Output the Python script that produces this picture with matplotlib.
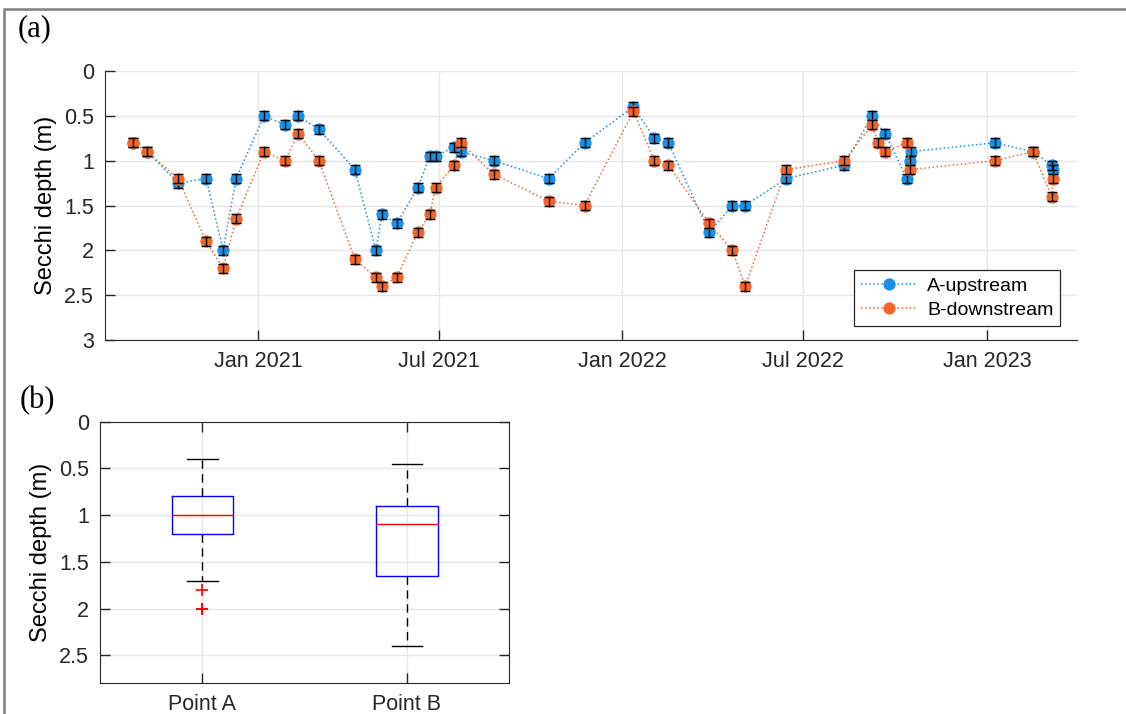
import numpy as np
import pandas as pd
import matplotlib
matplotlib.use("Agg")
import matplotlib.pyplot as plt
import matplotlib.dates as mdates
from matplotlib.patches import Rectangle
from matplotlib.ticker import FormatStrFormatter

plt.rcParams['font.family'] = ['Liberation Sans', 'DejaVu Sans']

# --- data ---
dates_a = ["2020-08-29", "2020-09-12", "2020-10-13", "2020-11-10", "2020-11-27", "2020-12-10",
           "2021-01-07", "2021-01-28", "2021-02-10", "2021-03-03", "2021-04-08", "2021-04-29",
           "2021-05-05", "2021-05-20", "2021-06-10", "2021-06-22", "2021-06-28", "2021-07-16",
           "2021-07-23", "2021-08-25", "2021-10-19", "2021-11-24", "2022-01-12", "2022-02-02",
           "2022-02-16", "2022-03-29", "2022-04-21", "2022-05-04", "2022-06-14", "2022-08-11",
           "2022-09-08", "2022-09-21", "2022-10-13", "2022-10-16", "2022-10-17", "2023-01-09",
           "2023-02-16", "2023-03-07", "2023-03-08"]
depth_a = [0.8, 0.9, 1.25, 1.2, 2.0, 1.2,
           0.5, 0.6, 0.5, 0.65, 1.1, 2.0,
           1.6, 1.7, 1.3, 0.95, 0.95, 0.85,
           0.9, 1.0, 1.2, 0.8, 0.4, 0.75,
           0.8, 1.8, 1.5, 1.5, 1.2, 1.05,
           0.5, 0.7, 1.2, 1.0, 0.9, 0.8,
           0.9, 1.05, 1.1]

dates_b = ["2020-08-29", "2020-09-12", "2020-10-13", "2020-11-10", "2020-11-27", "2020-12-10",
           "2021-01-07", "2021-01-28", "2021-02-10", "2021-03-03", "2021-04-08", "2021-04-29",
           "2021-05-05", "2021-05-20", "2021-06-10", "2021-06-22", "2021-06-28", "2021-07-16",
           "2021-07-23", "2021-08-25", "2021-10-19", "2021-11-24", "2022-01-12", "2022-02-02",
           "2022-02-16", "2022-03-29", "2022-04-21", "2022-05-04", "2022-06-14", "2022-08-11",
           "2022-09-08", "2022-09-14", "2022-09-21", "2022-10-13", "2022-10-16", "2023-01-09",
           "2023-02-16", "2023-03-07", "2023-03-08"]
depth_b = [0.8, 0.9, 1.2, 1.9, 2.2, 1.65,
           0.9, 1.0, 0.7, 1.0, 2.1, 2.3,
           2.4, 2.3, 1.8, 1.6, 1.3, 1.05,
           0.8, 1.15, 1.45, 1.5, 0.45, 1.0,
           1.05, 1.7, 2.0, 2.4, 1.1, 1.0,
           0.6, 0.8, 0.9, 0.8, 1.1, 1.0,
           0.9, 1.4, 1.2]
depth_err = 0.05

series_names = ["A-upstream", "B-downstream"]
box_labels = ["Point A", "Point B"]
box_med = [1.0, 1.1]
box_q1 = [0.8, 0.9]
box_q3 = [1.2, 1.65]
box_lo = [0.4, 0.45]
box_hi = [1.7, 2.4]
box_fliers = [[1.8, 2.0, 2.0], []]

col_a = "#1a8fe3"
col_b = "#f2652a"

fig = plt.figure(figsize=(11.26, 7.14), dpi=100)

# outer frame (grey, cut at right/bottom)
fig.add_artist(Rectangle((4 / 1126, -0.1), 1.2, 1 - 9.5 / 714 + 0.1,
                         transform=fig.transFigure, fill=False,
                         edgecolor="#7f7f7f", lw=1.8))

# (a) time series
ax = fig.add_axes([105.3 / 1126, 1 - 340 / 714, 971.4 / 1126, 269 / 714])
for d, v, c, name in [(dates_a, depth_a, col_a, series_names[0]),
                      (dates_b, depth_b, col_b, series_names[1])]:
    t = pd.to_datetime(d)
    ax.plot(t, v, ls=":", lw=1.1, color=c, marker="o", ms=7.8,
            mfc=c, mec=c, label=name, zorder=3)
    ax.errorbar(t, v, yerr=depth_err, fmt="none", ecolor="black",
                elinewidth=1.0, capsize=3.8, capthick=1.0, zorder=3)

ax.set_xlim(pd.Timestamp("2020-08-01"), pd.Timestamp("2023-04-01"))
ax.set_ylim(3, 0)
ax.set_yticks(np.arange(0, 3.01, 0.5))
ax.yaxis.set_major_formatter(FormatStrFormatter('%g'))
ax.xaxis.set_major_locator(mdates.MonthLocator(bymonth=[1, 7]))
ax.xaxis.set_major_formatter(mdates.DateFormatter('%b %Y'))
ax.set_ylabel("Secchi depth (m)", fontsize=17, labelpad=5)
ax.tick_params(direction="in", length=7, width=1, labelsize=15.5, pad=8, colors="#262626")
ax.grid(True, color="#e6e6e6", lw=1)
ax.set_axisbelow(True)
for s in ["top", "right"]:
    ax.spines[s].set_visible(False)
for s in ["left", "bottom"]:
    ax.spines[s].set_color("#262626")
leg = ax.legend(loc="lower right", bbox_to_anchor=(0.983, 0.052), borderaxespad=0,
                fontsize=14, fancybox=False, edgecolor="#262626", framealpha=1,
                handlelength=2.9, handletextpad=0.5, borderpad=0.35, labelspacing=0.35)
leg.get_frame().set_linewidth(0.9)
fig.text(18 / 1126, 1 - 29 / 714, "(a)", family="Liberation Serif",
         fontsize=22, va="center", ha="left")

# (b) boxplot
bx = fig.add_axes([100 / 1126, 1 - 683.3 / 714, 409.3 / 1126, 261.6 / 714])
stats = []
for i in range(len(box_labels)):
    stats.append(dict(med=box_med[i], q1=box_q1[i], q3=box_q3[i],
                      whislo=box_lo[i], whishi=box_hi[i],
                      fliers=box_fliers[i], label=box_labels[i]))
bx.bxp(stats, positions=[1, 2], widths=0.3, showfliers=True,
       boxprops=dict(color="blue", lw=1),
       medianprops=dict(color="red", lw=1),
       whiskerprops=dict(color="black", ls=(0, (6, 4)), lw=1),
       capprops=dict(color="black", lw=1), capwidths=0.15,
       flierprops=dict(marker="+", markeredgecolor="red", markersize=9, mew=1.2,
                       linestyle="none"))
bx.set_xlim(0.5, 2.5)
bx.set_ylim(2.8, 0)
bx.set_yticks(np.arange(0, 2.51, 0.5))
bx.yaxis.set_major_formatter(FormatStrFormatter('%g'))
bx.set_ylabel("Secchi depth (m)", fontsize=17, labelpad=5)
bx.tick_params(direction="in", length=7, width=1, labelsize=15.5, pad=8,
               top=True, right=True, colors="#262626")
bx.grid(True, color="#e6e6e6", lw=1)
bx.set_axisbelow(True)
for s in bx.spines.values():
    s.set_color("#262626")
fig.text(20 / 1126, 1 - 401 / 714, "(b)", family="Liberation Serif",
         fontsize=22, va="center", ha="left")

fig.savefig("out.png", dpi=100)
